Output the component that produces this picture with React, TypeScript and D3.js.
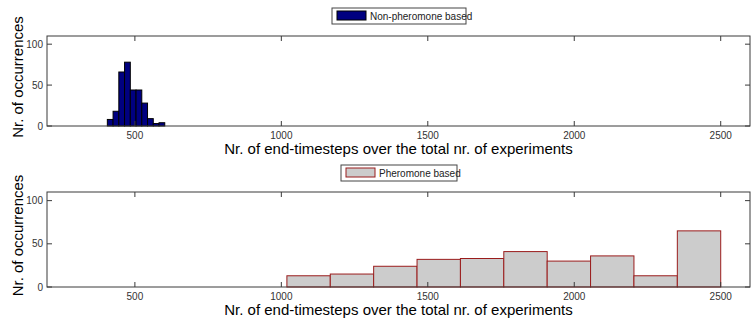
import React from 'react';
import * as d3 from 'd3';

// histogram counts per bin (10 bins each)
const nonPheromoneCounts = [8, 18, 66, 78, 44, 44, 28, 9, 3, 4];
const nonPheromoneRange = [406, 602];
const pheromoneCounts = [13, 15, 24, 32, 33, 41, 30, 36, 13, 65];
const pheromoneRange = [1019, 2500];

const xTicks = [500, 1000, 1500, 2000, 2500];
const yTicks = [0, 50, 100];
const xDomain = [200, 2600];
const yDomain = [0, 110];

const xLabel = 'Nr. of end-timesteps over the total nr. of experiments';
const yLabel = 'Nr. of occurrences';

const font = '"Liberation Sans", Arial, sans-serif';
const axisColor = '#3a3a3a';

type PanelProps = {
  top: number;
  bottom: number;
  counts: number[];
  range: number[];
  fill: string;
  stroke: string;
  legend: string;
  legendBox: { x: number; y: number; w: number; h: number };
};

const left = 47;
const right = 750;

const Panel = ({ top, bottom, counts, range, fill, stroke, legend, legendBox }: PanelProps) => {
  const x = d3.scaleLinear().domain(xDomain).range([left, right]);
  const y = d3.scaleLinear().domain(yDomain).range([bottom, top]);
  const binW = (range[1] - range[0]) / counts.length;
  const bins = counts.map((c, i) => ({ x0: range[0] + i * binW, x1: range[0] + (i + 1) * binW, c }));
  const tick = 5;

  return (
    <g>
      {bins.map((b, i) => (
        <rect
          key={i}
          x={x(b.x0)}
          y={y(b.c)}
          width={x(b.x1) - x(b.x0)}
          height={y(0) - y(b.c)}
          fill={fill}
          stroke={stroke}
          strokeWidth={1}
        />
      ))}
      <rect x={left} y={top} width={right - left} height={bottom - top} fill="none" stroke={axisColor} strokeWidth={1} />
      {xTicks.map(t => (
        <g key={t}>
          <line x1={x(t)} x2={x(t)} y1={bottom} y2={bottom - tick} stroke={axisColor} />
          <line x1={x(t)} x2={x(t)} y1={top} y2={top + tick} stroke={axisColor} />
          <text x={x(t)} y={bottom + 13} fontSize={10} fill="#333" textAnchor="middle" fontFamily={font}>{t}</text>
        </g>
      ))}
      {yTicks.map(t => (
        <g key={t}>
          <line x1={left} x2={left + tick} y1={y(t)} y2={y(t)} stroke={axisColor} />
          <line x1={right} x2={right - tick} y1={y(t)} y2={y(t)} stroke={axisColor} />
          <text x={left - 4} y={y(t)} dy="0.35em" fontSize={10} fill="#333" textAnchor="end" fontFamily={font}>{t}</text>
        </g>
      ))}
      <text x={(left + right) / 2} y={bottom + 28} fontSize={15} textAnchor="middle" fontFamily={font} fill="#000">{xLabel}</text>
      <text
        transform={`translate(${23},${(top + bottom) / 2 - 4}) rotate(-90)`}
        fontSize={15}
        textAnchor="middle"
        fontFamily={font}
        fill="#000"
      >{yLabel}</text>
      <rect x={legendBox.x} y={legendBox.y} width={legendBox.w} height={legendBox.h} fill="#fff" stroke="#444" />
      <rect x={legendBox.x + 5} y={legendBox.y + 3} width={29} height={legendBox.h - 7} fill={fill} stroke={stroke} />
      <text x={legendBox.x + 38} y={legendBox.y + legendBox.h / 2} dy="0.35em" fontSize={10} fontFamily={font} fill="#222">{legend}</text>
    </g>
  );
};

const App = () => (
  <svg width={752} height={325} style={{ position: 'absolute', left: 0, top: 0, background: '#fff' }}>
    <Panel
      top={36}
      bottom={126}
      counts={nonPheromoneCounts}
      range={nonPheromoneRange}
      fill="#000080"
      stroke="#000"
      legend="Non-pheromone based"
      legendBox={{ x: 332, y: 8, w: 134, h: 16 }}
    />
    <Panel
      top={192}
      bottom={287}
      counts={pheromoneCounts}
      range={pheromoneRange}
      fill="#cccccc"
      stroke="#9a1c1c"
      legend="Pheromone based"
      legendBox={{ x: 341, y: 165, w: 116, h: 16 }}
    />
  </svg>
);

export default App;
